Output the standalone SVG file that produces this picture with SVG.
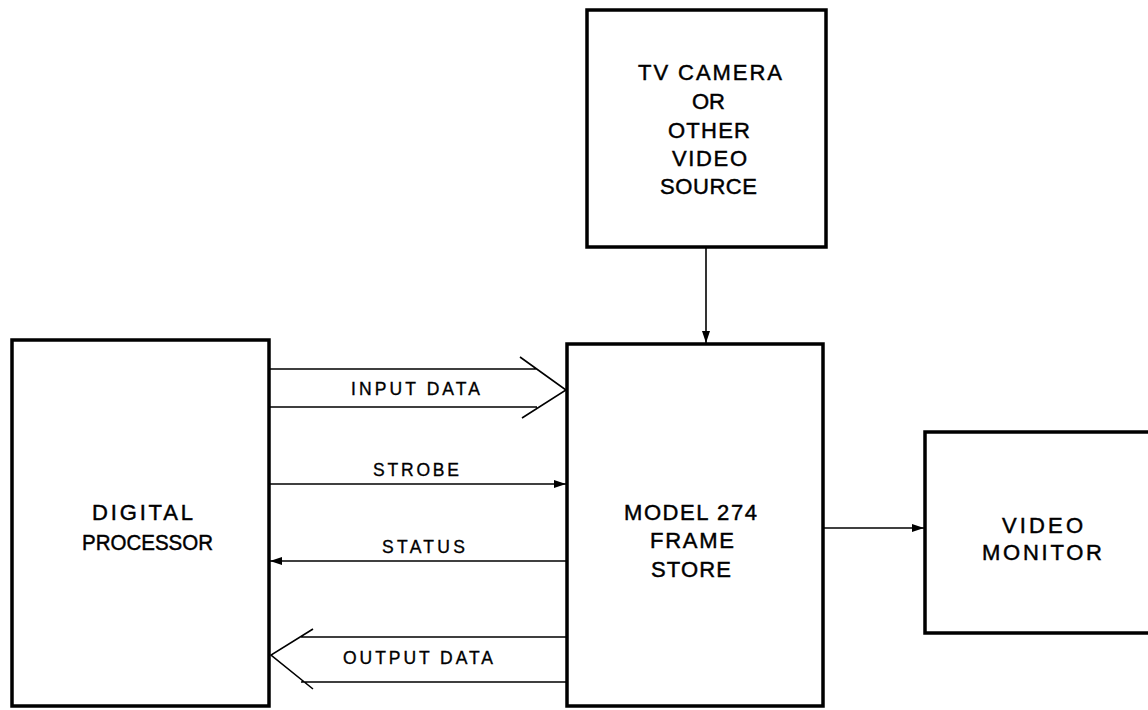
<svg xmlns="http://www.w3.org/2000/svg" width="1148" height="710" viewBox="0 0 1148 710">
<defs>
<marker id="ah" viewBox="0 0 12 8" refX="12" refY="4" markerWidth="12" markerHeight="8" markerUnits="userSpaceOnUse" orient="auto">
<path d="M0,0 L12,4 L0,8 z" fill="#000"/>
</marker>
</defs>
<style>
.box{fill:#fff;stroke:#000;stroke-width:3.5}
.ln{fill:none;stroke:#000;stroke-width:1.6}
.big{font-family:"Liberation Sans",Arial,sans-serif;font-size:22px;fill:#000;stroke:#000;stroke-width:0.45}
.sm{font-family:"Liberation Sans",Arial,sans-serif;font-size:17.5px;fill:#000;stroke:#000;stroke-width:0.35}
</style>
<rect width="1148" height="710" fill="#fff"/>
<g id="connectors">
<line class="ln" x1="706" y1="247" x2="706" y2="343" marker-end="url(#ah)"/>
<line class="ln" x1="823" y1="528" x2="924" y2="528" marker-end="url(#ah)"/>
<line class="ln" x1="270" y1="484" x2="566" y2="484" marker-end="url(#ah)"/>
<line class="ln" x1="566" y1="561" x2="270" y2="561" marker-end="url(#ah)"/>
<path class="ln" d="M270,369 H537 M270,407 H537 M520,357 L566,390 L522,418"/>
<path class="ln" d="M566,637 H301 M566,682 H301 M313,629 L271,655 L313,689"/>
<text class="sm" x="351" y="395" textLength="129" lengthAdjust="spacing">INPUT DATA</text>
<text class="sm" x="373" y="476" textLength="86" lengthAdjust="spacing">STROBE</text>
<text class="sm" x="382" y="553" textLength="83" lengthAdjust="spacing">STATUS</text>
<text class="sm" x="343" y="664" textLength="150" lengthAdjust="spacing">OUTPUT DATA</text>
</g>
<g id="camera">
<rect class="box" x="587" y="10" width="239" height="237"/>
<text class="big" x="638" y="80" textLength="144" lengthAdjust="spacing">TV CAMERA</text>
<text class="big" x="692" y="109" textLength="33" lengthAdjust="spacing">OR</text>
<text class="big" x="668" y="138" textLength="82" lengthAdjust="spacing">OTHER</text>
<text class="big" x="672" y="166" textLength="75" lengthAdjust="spacing">VIDEO</text>
<text class="big" x="660" y="194" textLength="97" lengthAdjust="spacing">SOURCE</text>
</g>
<g id="processor">
<rect class="box" x="12" y="340" width="257" height="366"/>
<text class="big" x="92" y="520" textLength="101" lengthAdjust="spacing">DIGITAL</text>
<text class="big" x="82" y="550" textLength="131" lengthAdjust="spacingAndGlyphs">PROCESSOR</text>
</g>
<g id="framestore">
<rect class="box" x="567" y="344" width="256" height="362"/>
<text class="big" x="624" y="520" textLength="133" lengthAdjust="spacing">MODEL 274</text>
<text class="big" x="650" y="548" textLength="84" lengthAdjust="spacing">FRAME</text>
<text class="big" x="651" y="577" textLength="80" lengthAdjust="spacing">STORE</text>
</g>
<g id="monitor">
<rect class="box" x="925" y="432" width="240" height="201"/>
<text class="big" x="1002" y="533" textLength="81" lengthAdjust="spacing">VIDEO</text>
<text class="big" x="982" y="560" textLength="120" lengthAdjust="spacing">MONITOR</text>
</g>
</svg>
